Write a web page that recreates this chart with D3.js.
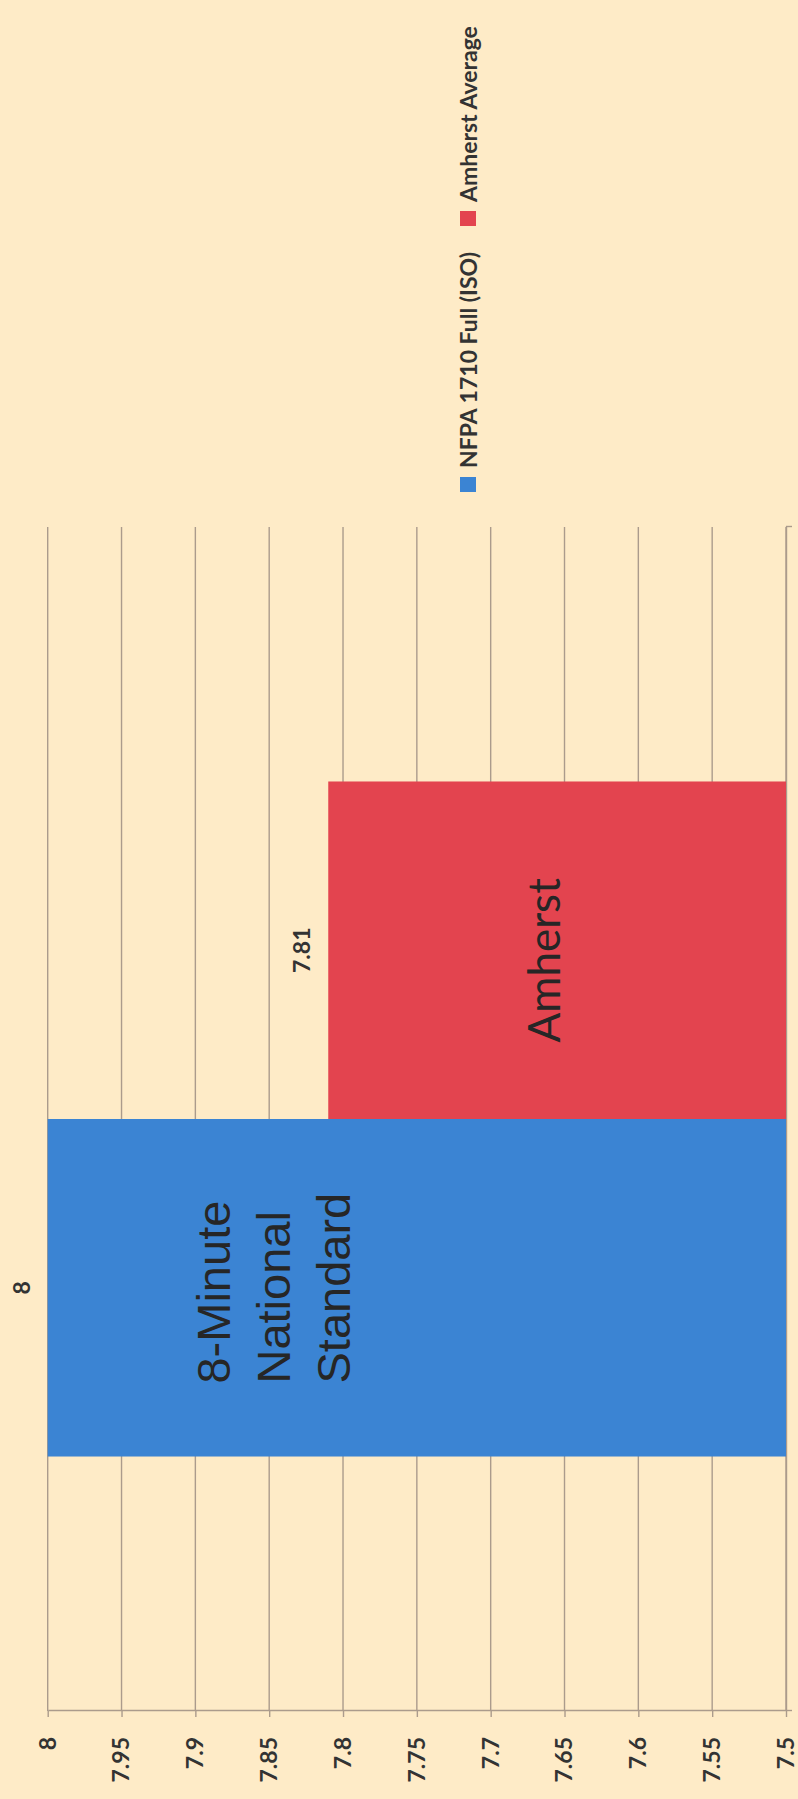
<!DOCTYPE html>
<html>
<head>
<meta charset="utf-8">
<script src="https://cdn.jsdelivr.net/npm/d3@7"></script>
<style>
  html, body { margin: 0; padding: 0; background: #feebc7; }
  svg { display: block; }
</style>
</head>
<body>
<script>
// ---- data ----
const categories = ["Response Time"];
const seriesNames = ["NFPA 1710 Full (ISO)", "Amherst Average"];
const seriesValues = [8, 7.81];
const seriesColors = ["#3b84d3", "#e3444f"];
const barCaptions = [["8-Minute", "National", "Standard"], ["Amherst"]];
const tickValues = [7.5, 7.55, 7.6, 7.65, 7.7, 7.75, 7.8, 7.85, 7.9, 7.95, 8];
const tickLabels = ["7.5", "7.55", "7.6", "7.65", "7.7", "7.75", "7.8", "7.85", "7.9", "7.95", "8"];

// ---- page ----
const pageW = 798, pageH = 1799;
const svg = d3.select("body").append("svg")
  .attr("width", pageW).attr("height", pageH);
svg.append("rect").attr("width", pageW).attr("height", pageH).attr("fill", "#feebc7");

// The chart is laid out as an upright column chart and then turned a
// quarter turn counter-clockwise onto the page.
const chart = svg.append("g").attr("transform", `translate(0,${pageH}) rotate(-90)`);

const plot = { left: 88, right: 1272, top: 47.7, bottom: 786 };
const gridColor = "#ab9b8c";
const textColor = "#333333";

const y = d3.scaleLinear().domain([7.5, 8]).range([plot.bottom, plot.top]);
const x0 = d3.scaleBand().domain(categories).range([plot.left, plot.right])
  .paddingInner(0).paddingOuter(0.377);
const x1 = d3.scaleBand().domain(seriesNames).range([0, x0.bandwidth()]);

// gridlines
chart.append("g").selectAll("line").data(tickValues).join("line")
  .attr("x1", plot.left).attr("x2", plot.right)
  .attr("y1", d => y(d)).attr("y2", d => y(d))
  .attr("stroke", gridColor).attr("stroke-width", 1.4);

// value axis
const yAxis = chart.append("g")
  .attr("transform", `translate(${plot.left},0)`)
  .call(d3.axisLeft(y).tickValues(tickValues)
    .tickFormat((d, i) => tickLabels[i])
    .tickSize(6).tickSizeOuter(0).tickPadding(20));
yAxis.select(".domain").attr("stroke", gridColor).attr("stroke-width", 1.6);
yAxis.selectAll(".tick line").attr("stroke", gridColor).attr("stroke-width", 1.4);
yAxis.selectAll(".tick text")
  .attr("fill", textColor)
  .style("font-family", "Lato, 'Open Sans', sans-serif")
  .style("font-weight", "700")
  .style("font-size", "23px");

// category axis (baseline)
const catEdge = d3.scaleLinear().domain([0, 1]).range([plot.left, plot.right]);
const xAxis = chart.append("g")
  .attr("transform", `translate(0,${plot.bottom})`)
  .call(d3.axisBottom(catEdge).tickValues([0, 1]).tickFormat("").tickSize(6).tickSizeOuter(0));
xAxis.select(".domain").attr("stroke", gridColor).attr("stroke-width", 1.4);
xAxis.selectAll(".tick line").attr("stroke", gridColor).attr("stroke-width", 1.4);

// bars
const rows = seriesNames.map((s, i) => ({
  series: s, value: seriesValues[i], color: seriesColors[i],
  caption: barCaptions[i], cat: categories[0]
}));

const bars = chart.append("g").selectAll("rect").data(rows).join("rect")
  .attr("x", d => x0(d.cat) + x1(d.series))
  .attr("width", x1.bandwidth())
  .attr("y", d => y(d.value))
  .attr("height", d => plot.bottom - y(d.value))
  .attr("fill", d => d.color);

// value labels above bar ends
chart.append("g").selectAll("text").data(rows).join("text")
  .attr("x", d => x0(d.cat) + x1(d.series) + x1.bandwidth() / 2)
  .attr("y", d => y(d.value) - 18)
  .attr("text-anchor", "middle")
  .attr("fill", textColor)
  .style("font-family", "Lato, 'Open Sans', sans-serif")
  .style("font-weight", "700")
  .style("font-size", "23px")
  .text(d => d.value);

// captions inside the bars
const natRow = rows[0];
const natText = chart.append("text")
  .attr("fill", "#262626")
  .style("font-family", "'Liberation Sans', Arial, sans-serif")
  .style("font-size", "47px");
natText.selectAll("tspan").data(natRow.caption).join("tspan")
  .attr("x", x0(natRow.cat) + x1(natRow.series) + 73)
  .attr("y", (d, i) => y(natRow.value) + 182 + i * 60)
  .text(d => d);

const amRow = rows[1];
chart.append("text")
  .attr("x", x0(amRow.cat) + x1(amRow.series) + x1.bandwidth() / 2 - 10)
  .attr("y", 560)
  .attr("text-anchor", "middle")
  .attr("fill", "#262626")
  .style("font-family", "Lato, 'Open Sans', sans-serif")
  .style("font-size", "44px")
  .text(amRow.caption[0]);

// legend
const legend = chart.append("g");
let lx = 1307;
const legendY = 477;
rows.forEach(d => {
  legend.append("rect")
    .attr("x", lx).attr("y", legendY - 17)
    .attr("width", 15).attr("height", 16)
    .attr("fill", d.color);
  const t = legend.append("text")
    .attr("x", lx + 24).attr("y", legendY)
    .attr("fill", textColor)
    .style("font-family", "Lato, 'Open Sans', sans-serif")
    .style("font-weight", "700")
    .style("font-size", "23px")
    .text(d.series);
  lx = lx + 24 + t.node().getComputedTextLength() + 26;
});
</script>
</body>
</html>
